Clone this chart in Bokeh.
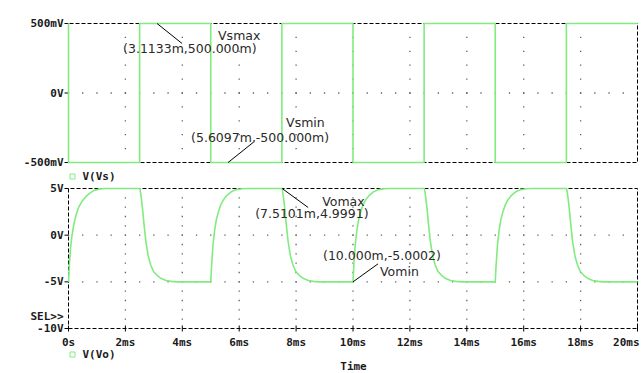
import numpy as np
from bokeh.plotting import figure
from bokeh.layouts import column
from bokeh.models import Range1d, Label
from bokeh.core.properties import value
from bokeh.embed import file_html
from bokeh.resources import INLINE

# ---------------- data ----------------
time_ticks = [0, 2, 4, 6, 8, 10, 12, 14, 16, 18, 20]
time_labels = ["0s", "2ms", "4ms", "6ms", "8ms", "10ms", "12ms", "14ms", "16ms", "18ms", "20ms"]
time_span = (0.0, 20.0)
vs_ticks = [-0.5, 0.0, 0.5]
vs_labels = ["-500mV", "0V", "500mV"]
vs_span = (-0.5, 0.5)
vo_ticks = [-10, -5, 0, 5]
vo_labels = ["-10V", "-5V", "0V", "5V"]
vo_span = (-10.0, 5.0)

# V(Vs): square wave (ms, V)
vs_t = [0.0, 0.0, 2.5, 2.5, 5.0, 5.0, 7.5, 7.5, 10.0, 10.0, 12.5, 12.5, 15.0, 15.0, 17.5, 17.5, 20.0]
vs_v = [0.5, -0.5, -0.5, 0.5, 0.5, -0.5, -0.5, 0.5, 0.5, -0.5, -0.5, 0.5, 0.5, -0.5, -0.5, 0.5, 0.5]

# V(Vo) (ms, V)
vo_t = [0.00, 0.03, 0.07, 0.12, 0.19, 0.27, 0.36, 0.47, 0.60, 0.75, 0.90, 1.10, 1.30,
        2.51, 2.55, 2.60, 2.66, 2.72, 2.80, 2.89, 2.99, 3.11, 3.26, 3.43, 3.61, 3.81,
        5.00, 5.03, 5.08, 5.14, 5.20, 5.28, 5.36, 5.46, 5.58, 5.72, 5.90, 6.10, 6.30,
        7.51, 7.55, 7.60, 7.66, 7.72, 7.80, 7.89, 7.99, 8.11, 8.26, 8.43, 8.61, 8.81,
        10.00, 10.03, 10.08, 10.14, 10.20, 10.28, 10.36, 10.46, 10.58, 10.72, 10.90, 11.10, 11.30,
        12.51, 12.55, 12.60, 12.66, 12.72, 12.80, 12.89, 12.99, 13.11, 13.26, 13.43, 13.61, 13.81,
        15.00, 15.03, 15.08, 15.14, 15.20, 15.28, 15.36, 15.46, 15.58, 15.72, 15.90, 16.10, 16.30,
        17.51, 17.55, 17.60, 17.66, 17.72, 17.80, 17.89, 17.99, 18.11, 18.26, 18.43, 18.61, 18.81,
        20.00]
vo_v = [-5.0, -3.3, -1.4, -0.1, 1.2, 2.2, 3.0, 3.6, 4.1, 4.5, 4.8, 4.95, 5.0,
        5.0, 4.2, 2.9, 1.0, -0.7, -2.2, -3.2, -3.9, -4.3, -4.65, -4.85, -4.95, -5.0,
        -5.0, -3.2, -1.0, 0.6, 1.7, 2.6, 3.3, 3.85, 4.3, 4.65, 4.88, 4.97, 5.0,
        5.0, 4.2, 2.9, 1.0, -0.7, -2.2, -3.2, -3.9, -4.3, -4.65, -4.85, -4.95, -5.0,
        -5.0, -3.2, -1.0, 0.6, 1.7, 2.6, 3.3, 3.85, 4.3, 4.65, 4.88, 4.97, 5.0,
        5.0, 4.2, 2.9, 1.0, -0.7, -2.2, -3.2, -3.9, -4.3, -4.65, -4.85, -4.95, -5.0,
        -5.0, -3.2, -1.0, 0.6, 1.7, 2.6, 3.3, 3.85, 4.3, 4.65, 4.88, 4.97, 5.0,
        5.0, 4.2, 2.9, 1.0, -0.7, -2.2, -3.2, -3.9, -4.3, -4.65, -4.85, -4.95, -5.0,
        -5.0]

# cursor marks
mark_names = ["Vsmax", "Vsmin", "Vomax", "Vomin"]
mark_t = [3.1133, 5.6097, 7.5101, 10.000]
mark_v = [0.5, -0.5, 4.9991, -5.0002]
mark_text = ["(3.1133m,500.000m)", "(5.6097m,-500.000m)", "(7.5101m,4.9991)", "(10.000m,-5.0002)"]
mark_panel = [0, 0, 1, 1]

# ---------------- layout / style ----------------
GREEN = "#80EC80"
DOT = "#606060"
TXT = "#1a1a1a"
MONO = "DejaVu Sans Mono"
W = 642
FX0, FX1 = 68, 637                 # plot area left/right (px)
KX = (FX1 - FX0) / (time_span[1] - time_span[0])
# panel geometry: (canvas top in window, canvas height, panel top px, panel bottom px)
PANELS = [(0, 183, 23, 162, vs_span), (183, 189, 188, 328, vo_span)]


def make_panel(idx):
    top, h, pt, pb, (lo, hi) = PANELS[idx]
    ky = (pb - pt) / (hi - lo)
    fx = lambda px: time_span[0] + (px - FX0) / KX          # window px -> ms
    fy = lambda py: hi - (py - pt) / ky                       # window px -> V
    p = figure(width=W, height=h, output_backend="svg", toolbar_location=None,
               x_range=Range1d(fx(0), fx(W)), y_range=Range1d(fy(top + h), fy(top)),
               min_border_left=0, min_border_right=0, min_border_top=0, min_border_bottom=0)
    p.axis.visible = False
    p.grid.visible = False
    p.outline_line_color = None
    p.background_fill_color = "white"
    p.border_fill_color = "white"
    return p, ky, fx, fy


def dots(p, xs, ys):
    p.scatter(xs, ys, marker="square", size=1.3, color=DOT, line_color=None)


def mono(p, xs, ys, texts, align="left", color=TXT, size="11px"):
    p.text(x=xs, y=ys, text=texts, text_font=value(MONO), text_font_style="bold",
           text_font_size=size, text_color=color, text_align=align, text_baseline="middle")


figs = []
for idx in range(2):
    p, ky, fx, fy = make_panel(idx)
    lo, hi = PANELS[idx][4]
    t0, t1 = time_span
    # grid dots
    gx = np.arange(t0, t1 + 1e-9, 0.5)
    step = 0.1 if idx == 0 else 1.0
    gy = np.arange(lo + step, hi - step / 2, step)
    for t in time_ticks[1:-1]:
        dots(p, [t] * len(gy), gy)
    for yv in ([0.0] if idx == 0 else [0.0, -5.0]):
        dots(p, gx, [yv] * len(gx))
    # dashed frame
    p.line([t0, t1, t1, t0, t0], [lo, lo, hi, hi, lo], line_color="black", line_width=1, line_dash="4 2")
    # y ticks + labels
    yt = vs_ticks if idx == 0 else vo_ticks
    yl = vs_labels if idx == 0 else vo_labels
    p.segment(x0=[t0] * len(yt), y0=yt, x1=[t0 - 4 / KX] * len(yt), y1=yt, line_color="black", line_width=1)
    mono(p, [fx(63)] * len(yt), yt, yl, align="right")
    figs.append((p, ky, fx, fy))

p1, ky1, fx1, fy1 = figs[0]
p2, ky2, fx2, fy2 = figs[1]

# traces
p1.line(vs_t, vs_v, line_color=GREEN, line_width=1.6)
p2.line(vo_t, vo_v, line_color=GREEN, line_width=1.6)

# x ticks + labels on the bottom panel
lo2 = vo_span[0]
p2.segment(x0=time_ticks, y0=[lo2 + 3 / ky2] * len(time_ticks), x1=time_ticks,
           y1=[lo2 - 3 / ky2] * len(time_ticks), line_color="black", line_width=1)
mono(p2, time_ticks[:-1], [fy2(341.5)] * (len(time_ticks) - 1), time_labels[:-1], align="center")
mono(p2, [fx2(639)], [fy2(341.5)], time_labels[-1:], align="right")

# legends and extra texts
p1.scatter([fx1(72)], [fy1(176)], marker="square", size=5, fill_color=None, line_color=GREEN, line_width=1)
mono(p1, [fx1(82)], [fy1(176)], ["V(Vs)"])
p2.scatter([fx2(72)], [fy2(354)], marker="square", size=5, fill_color=None, line_color=GREEN, line_width=1)
mono(p2, [fx2(82)], [fy2(354)], ["V(Vo)"])
mono(p2, [fx2(63)], [fy2(316)], ["SEL>>"], align="right")
mono(p2, [fx2(353)], [fy2(366)], ["Time"], align="center")

# cursor marks
offs_leader = [(25, 20), (25, -20), (26, 19), (25, -18)]
offs_name = [(61, 12), (58, -40), (40, 13), (27, -10)]
offs_read = [(-34, 25), (-37, -25), (-27, 25), (-30, -26)]
for i in range(4):
    p, ky = (p1, ky1) if mark_panel[i] == 0 else (p2, ky2)
    t0, v0 = mark_t[i], mark_v[i]
    dx, dy = offs_leader[i]
    p.segment(x0=[t0], y0=[v0], x1=[t0 + dx / KX], y1=[v0 - dy / ky], line_color="black", line_width=1)
    for (ox, oy), txt in [(offs_name[i], mark_names[i]), (offs_read[i], mark_text[i])]:
        p.add_layout(Label(x=t0 + ox / KX, y=v0 - oy / ky, text=txt, text_font="DejaVu Sans",
                           text_font_size="12.5px", text_color="#2a2a2a",
                           text_align="left", text_baseline="middle"))

layout = column(p1, p2, spacing=0)
open("out.html", "w").write(file_html(layout, INLINE))
